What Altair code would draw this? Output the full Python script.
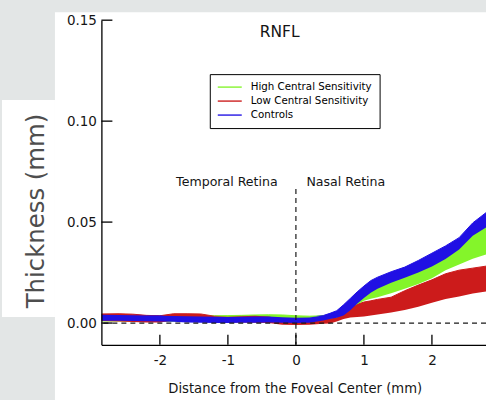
import altair as alt
import pandas as pd

# Distance from the foveal center (mm) at which each band is sampled
dist_mm = [-2.86, -2.6, -2.4, -2.2, -2.0, -1.8, -1.6, -1.4, -1.2, -1.0, -0.8,
           -0.6, -0.4, -0.2, 0.0, 0.2, 0.4, 0.5, 0.6, 0.7, 0.8, 0.9, 1.0,
           1.1, 1.2, 1.4, 1.6, 1.8, 2.0, 2.2, 2.4, 2.6, 2.8]

# RNFL thickness bands (upper / lower edge, mm)
hcs_hi = [0.0030, 0.0030, 0.0031, 0.0032, 0.0033, 0.0034, 0.0034, 0.0035, 0.0036,
          0.0037, 0.0038, 0.0040, 0.0041, 0.0040, 0.0036, 0.0034, 0.0036, 0.0040,
          0.0048, 0.0062, 0.0080, 0.0118, 0.0145, 0.0168, 0.0188, 0.0217, 0.0242,
          0.0268, 0.0298, 0.0338, 0.0383, 0.0447, 0.0492]
hcs_lo = [0.0008, 0.0008, 0.0008, 0.0007, 0.0007, 0.0006, 0.0006, 0.0005, 0.0005,
          0.0005, 0.0006, 0.0008, 0.0010, 0.0008, 0.0004, 0.0004, 0.0008, 0.0012,
          0.0018, 0.0032, 0.0055, 0.0090, 0.0110, 0.0120, 0.0128, 0.0147, 0.0170,
          0.0193, 0.0222, 0.0262, 0.0290, 0.0318, 0.0340]

lcs_hi = [0.0045, 0.0046, 0.0044, 0.0038, 0.0036, 0.0046, 0.0046, 0.0045, 0.0034,
          0.0031, 0.0034, 0.0036, 0.0033, 0.0020, 0.0018, 0.0018, 0.0018, 0.0022,
          0.0028, 0.0050, 0.0073, 0.0093, 0.0104, 0.0110, 0.0117, 0.0128, 0.0160,
          0.0188, 0.0214, 0.0244, 0.0262, 0.0272, 0.0282]
lcs_lo = [0.0010, 0.0008, 0.0005, 0.0003, 0.0003, 0.0012, 0.0015, 0.0013, 0.0005,
          0.0003, 0.0003, 0.0002, 0.0000, -0.0008, -0.0010, -0.0008, -0.0004, -0.0002,
          0.0008, 0.0020, 0.0027, 0.0030, 0.0032, 0.0037, 0.0042, 0.0052, 0.0065,
          0.0081, 0.0100, 0.0119, 0.0132, 0.0146, 0.0157]

ctl_hi = [0.0041, 0.0040, 0.0039, 0.0037, 0.0036, 0.0035, 0.0034, 0.0032, 0.0031,
          0.0030, 0.0031, 0.0033, 0.0032, 0.0029, 0.0026, 0.0028, 0.0037, 0.0048,
          0.0061, 0.0090, 0.0122, 0.0154, 0.0183, 0.0210, 0.0227, 0.0254, 0.0277,
          0.0310, 0.0346, 0.0382, 0.0423, 0.0496, 0.0548]
ctl_lo = [0.0011, 0.0011, 0.0010, 0.0009, 0.0008, 0.0006, 0.0003, 0.0001, 0.0000,
          0.0000, 0.0001, 0.0002, 0.0003, 0.0002, 0.0000, 0.0002, 0.0013, 0.0020,
          0.0026, 0.0037, 0.0063, 0.0096, 0.0124, 0.0150, 0.0170, 0.0199, 0.0224,
          0.0250, 0.0280, 0.0317, 0.0364, 0.0432, 0.0474]

groups = ["High Central Sensitivity", "Low Central Sensitivity", "Controls"]
colors = ["#84f52a", "#cc1b1b", "#2010e4"]

x_ticks = [-2, -1, 0, 1, 2]
y_ticks = [0.0, 0.05, 0.10, 0.15]

rows = []
for g, hi, lo in zip(groups, [hcs_hi, lcs_hi, ctl_hi], [hcs_lo, lcs_lo, ctl_lo]):
    for d, a, b in zip(dist_mm, hi, lo):
        rows.append({"group": g, "dist": d, "upper": a, "lower": b})
bands = pd.DataFrame(rows)

W, H = 385, 325
FONT = "DejaVu Sans"

x_scale = alt.Scale(domain=[-2.86, 2.795], nice=False, zero=False)
y_scale = alt.Scale(domain=[-0.0108, 0.15], nice=False, zero=False)

x_axis = alt.Axis(values=x_ticks, labelExpr="'' + datum.value", ticks=False, tickSize=0,
                  labelPadding=9, labelFontSize=13.5, labelColor="#151515", labelFlush=False,
                  domainColor="black", domainWidth=1.3, grid=False, zindex=1,
                  title="Distance from the Foveal Center (mm)", titleFontSize=13.2,
                  titleFontWeight="normal", titleColor="#151515", titleX=193.5, titleY=48,
                  titleAlign="center", titleBaseline="alphabetic")
y_axis = alt.Axis(values=y_ticks, format=".2f", ticks=False, tickSize=0,
                  labelPadding=5, labelFontSize=13.5, labelColor="#151515", labelFlush=False,
                  domainColor="black", domainWidth=1.3, grid=False, zindex=1,
                  title="Thickness (mm)", titleFontSize=24.4, titleFontWeight="normal",
                  titleColor="#4e4e4e", titleX=-58.2, titleY=190.5, titleAngle=270,
                  titleAlign="center", titleBaseline="alphabetic")

X = lambda f: alt.X(f, type="quantitative", scale=x_scale, axis=x_axis)
Y = lambda f: alt.Y(f, type="quantitative", scale=y_scale, axis=y_axis)

one = pd.DataFrame({"k": [0]})

# white figure panels on the grey page
panel = alt.Chart(one).mark_rect(color="white").encode(
    x=alt.value(-46.5), x2=alt.value(W + 5), y=alt.value(-8), y2=alt.value(H + 60))
title_panel = alt.Chart(one).mark_rect(color="white").encode(
    x=alt.value(-99.5), x2=alt.value(-46.5), y=alt.value(80), y2=alt.value(297))

# legend source: thin lines along the band tops, hidden under the bands
legend_lines = alt.Chart(bands).mark_line(strokeWidth=1, clip=True).encode(
    x=X("dist"), y=Y("upper"),
    stroke=alt.Stroke("group:N", scale=alt.Scale(domain=groups, range=colors), sort=groups,
                      legend=alt.Legend(title=None, orient="none", legendX=108.5, legendY=54,
                                        symbolType="stroke", symbolSize=576,
                                        symbolStrokeWidth=1.6, symbolOpacity=0.85,
                                        labelFont=FONT, labelFontSize=10.3, labelColor="black",
                                        padding=7, labelOffset=8, rowPadding=2, clipHeight=12,
                                        strokeColor="black", fillColor="white")),
    detail="group:N")


def band(g):
    return alt.Chart(bands).transform_filter(alt.datum.group == g).mark_area(clip=True).encode(
        x=X("dist"), y=Y("upper"), y2="lower:Q",
        fill=alt.Fill("group:N", scale=alt.Scale(domain=groups, range=colors), legend=None))


ticks_y = alt.Chart(pd.DataFrame({"v": y_ticks})).mark_rule(color="black", strokeWidth=1.3).encode(
    y=Y("v"), x=alt.value(0), x2=alt.value(11))
ticks_x = alt.Chart(pd.DataFrame({"v": x_ticks})).mark_rule(color="black", strokeWidth=1.3).encode(
    x=X("v"), y=alt.value(H - 10), y2=alt.value(H))

zero_line = alt.Chart(pd.DataFrame({"v": [0.0]})).mark_rule(
    color="#1a1a1a", strokeWidth=1.2, strokeDash=[5, 4]).encode(y=Y("v"))
center_line = alt.Chart(pd.DataFrame({"v": [0.0]})).mark_rule(
    color="#1a1a1a", strokeWidth=1.2, strokeDash=[5, 4]).encode(
    x=X("v"), y=alt.value(169), y2=alt.value(H))

title_txt = alt.Chart(one).mark_text(text="RNFL", font=FONT, fontSize=15.5, color="#151515",
                                     align="center", baseline="alphabetic").encode(
    x=alt.value(178.5), y=alt.value(16.7))
temporal_txt = alt.Chart(one).mark_text(text="Temporal Retina", font=FONT, fontSize=12.6,
                                        color="#151515", align="right",
                                        baseline="alphabetic").encode(
    x=alt.value(176.5), y=alt.value(166))
nasal_txt = alt.Chart(one).mark_text(text="Nasal Retina", font=FONT, fontSize=12.6,
                                     color="#151515", align="left",
                                     baseline="alphabetic").encode(
    x=alt.value(205.2), y=alt.value(166))

chart = alt.layer(
    panel, title_panel, legend_lines,
    band(groups[0]), band(groups[1]), band(groups[2]),
    zero_line, center_line, ticks_y, ticks_x,
    title_txt, temporal_txt, nasal_txt,
).resolve_scale(fill="independent", stroke="independent").properties(
    width=W, height=H,
    padding={"left": 101.5, "top": 20, "right": 0, "bottom": 55},
    autosize=alt.AutoSizeParams(type="none"),
    background="#e3e6e6",
).configure(font=FONT).configure_view(strokeWidth=0)

chart.save("out.html", embed_options={"renderer": "svg", "actions": False})
